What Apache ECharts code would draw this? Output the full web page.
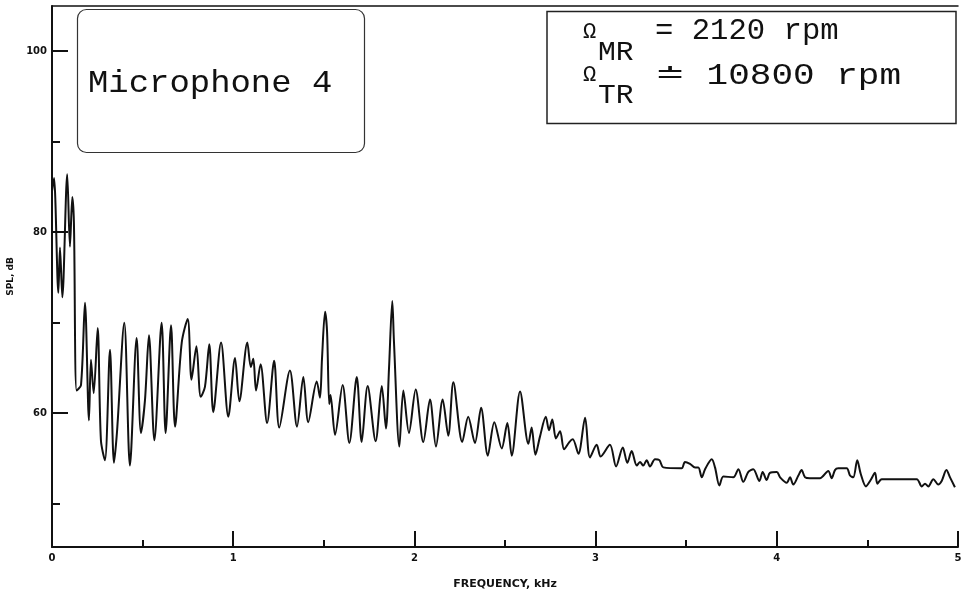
<!DOCTYPE html>
<html>
<head>
<meta charset="utf-8">
<script src="https://cdn.jsdelivr.net/npm/echarts@6/dist/echarts.min.js"></script>
<style>html,body{margin:0;padding:0;background:#fff;}#c{width:961px;height:590px;}</style>
</head>
<body>
<div id="c"></div>
<script>
// Frequency (kHz) and SPL (dB)
const freqKHz = [0.000,0.011,0.035,0.044,0.057,0.084,0.099,0.112,0.121,0.136,0.160,0.182,0.204,0.215,0.230,0.252,0.270,0.292,0.320,0.342,0.359,0.399,0.430,0.467,0.491,0.513,0.535,0.565,0.605,0.627,0.657,0.679,0.716,0.749,0.770,0.797,0.821,0.844,0.868,0.890,0.933,0.973,1.010,1.034,1.078,1.097,1.111,1.126,1.151,1.187,1.226,1.254,1.313,1.352,1.387,1.414,1.461,1.479,1.490,1.507,1.518,1.530,1.537,1.562,1.604,1.641,1.682,1.709,1.742,1.786,1.820,1.843,1.860,1.878,1.887,1.917,1.939,1.970,2.007,2.049,2.086,2.119,2.156,2.187,2.215,2.264,2.297,2.334,2.368,2.405,2.441,2.482,2.513,2.537,2.583,2.629,2.647,2.668,2.693,2.725,2.743,2.761,2.781,2.804,2.826,2.855,2.874,2.905,2.942,2.969,3.006,3.028,3.079,3.113,3.150,3.175,3.199,3.227,3.245,3.263,3.282,3.300,3.328,3.352,3.374,3.475,3.493,3.521,3.549,3.567,3.586,3.604,3.641,3.659,3.683,3.705,3.760,3.788,3.815,3.843,3.870,3.904,3.922,3.944,3.962,4.000,4.018,4.055,4.073,4.091,4.119,4.137,4.156,4.183,4.238,4.284,4.303,4.321,4.339,4.386,4.404,4.422,4.444,4.463,4.492,4.518,4.542,4.555,4.579,4.772,4.800,4.818,4.836,4.864,4.891,4.910,4.936,4.956,4.983];
const splDB = [84.5,86.0,73.3,78.3,72.8,86.4,78.4,83.9,81.0,62.5,63.1,72.2,59.2,65.9,62.2,69.4,57.0,54.8,67.0,54.5,58.0,70.0,54.2,68.3,57.8,61.4,68.6,57.0,70.0,57.8,69.7,58.5,67.8,70.4,63.7,67.4,61.8,62.9,67.6,60.1,67.8,59.6,66.1,61.3,67.8,65.1,66.0,62.5,65.4,58.9,65.8,58.4,64.7,58.5,64.0,59.0,63.5,61.7,66.0,71.2,69.0,61.0,62.0,57.6,63.1,56.7,64.0,56.8,63.0,56.9,63.0,58.3,65.0,72.4,68.0,56.3,62.5,57.8,62.6,56.8,61.5,56.3,61.5,57.5,63.4,56.8,59.6,56.7,60.6,55.3,59.0,56.1,58.9,55.3,62.4,56.6,58.4,55.4,57.4,59.6,58.1,59.3,57.2,58.0,56.0,56.8,57.1,55.5,59.5,55.1,56.5,55.2,56.5,54.1,56.2,54.5,55.8,54.2,54.6,54.2,54.8,54.1,54.9,54.8,54.0,53.9,54.6,54.4,54.0,54.0,52.9,53.8,54.9,54.0,52.0,53.0,52.9,53.8,52.4,53.5,53.8,52.5,53.5,52.6,53.4,53.5,52.9,52.3,52.9,52.1,53.1,53.7,52.9,52.8,52.8,53.6,52.8,53.7,53.9,53.9,53.1,52.9,54.8,53.3,51.9,52.6,53.4,52.2,52.7,52.7,51.9,52.2,51.9,52.7,52.1,52.5,53.7,52.9,51.8];
const xTickLabels = ['0','1','2','3','4','5'];
const yMajorTicks = [60, 80, 100];
const yMinorTicks = [50, 70, 90];

const seriesData = freqKHz.map((f, i) => [f, splDB[i]]);
const ink = '#111';
const labelFont = { color: ink, fontFamily: 'DejaVu Sans', fontWeight: 'bold', fontSize: 10 };
const mono = 'Liberation Mono';

const chart = echarts.init(document.getElementById('c'), null, { renderer: 'canvas' });
chart.setOption({
  animation: false,
  backgroundColor: '#ffffff',
  grid: { left: 52, right: 3, top: 6, bottom: 43, containLabel: false, outerBoundsMode: 'none' },
  xAxis: [{
    type: 'value', min: 0, max: 5, interval: 1,
    name: 'FREQUENCY, kHz', nameLocation: 'middle', nameGap: 32,
    nameTextStyle: { color: ink, fontFamily: 'DejaVu Sans', fontWeight: 'bold', fontSize: 11 },
    axisLine: { show: true, lineStyle: { color: ink, width: 2 } },
    axisTick: { show: true, inside: true, length: 16, lineStyle: { color: ink, width: 2 } },
    minorTick: { show: true, splitNumber: 2, length: 7, lineStyle: { color: ink, width: 2 } },
    axisLabel: { ...labelFont, margin: 6, formatter: (v) => xTickLabels[Math.round(v)] },
    splitLine: { show: false }, minorSplitLine: { show: false }
  }, {
    type: 'value', position: 'top', min: 0, max: 5,
    axisLine: { show: true, lineStyle: { color: ink, width: 1.5 } },
    axisTick: { show: false }, axisLabel: { show: false }, splitLine: { show: false }
  }],
  yAxis: [{
    type: 'value', min: 45.2, max: 105,
    name: 'SPL, dB', nameLocation: 'middle', nameGap: 37, nameRotate: 90,
    nameTextStyle: { color: ink, fontFamily: 'DejaVu Sans', fontWeight: 'bold', fontSize: 9 },
    axisLine: { show: true, lineStyle: { color: ink, width: 2 } },
    axisTick: { show: true, inside: true, length: 16, customValues: yMajorTicks, lineStyle: { color: ink, width: 2 } },
    axisLabel: { ...labelFont, margin: 5, customValues: yMajorTicks },
    splitLine: { show: false }
  }, {
    type: 'value', min: 45.2, max: 105, position: 'left', offset: 0,
    axisLine: { show: false },
    axisTick: { show: true, inside: true, length: 8, customValues: yMinorTicks, lineStyle: { color: ink, width: 2 } },
    axisLabel: { show: false, customValues: yMinorTicks },
    splitLine: { show: false }
  }],
  series: [{
    type: 'line', xAxisIndex: 0, yAxisIndex: 0,
    data: seriesData, showSymbol: false, smooth: 0.3,
    lineStyle: { color: ink, width: 2 }
  }],
  graphic: [
    { type: 'rect', shape: { x: 77.5, y: 9.5, width: 287, height: 143, r: 9 },
      style: { fill: 'none', stroke: '#333', lineWidth: 1.2 } },
    { type: 'text', x: 88, y: 84, scaleX: 1.06, originX: 0, originY: 0,
      style: { text: 'Microphone 4', fontFamily: mono, fontSize: 32, fill: ink, verticalAlign: 'middle', align: 'left' } },
    { type: 'rect', shape: { x: 547, y: 11.5, width: 409, height: 112 },
      style: { fill: 'none', stroke: '#222', lineWidth: 1.5 } },
    { type: 'text', x: 583, y: 32,
      style: { text: 'Ω', fontFamily: mono, fontSize: 22, fill: ink, verticalAlign: 'middle' } },
    { type: 'text', x: 598, y: 53, scaleX: 1.06, originX: 0, originY: 0,
      style: { text: 'MR', fontFamily: mono, fontSize: 28, fill: ink, verticalAlign: 'middle' } },
    { type: 'text', x: 655, y: 31, scaleX: 1.02, originX: 0, originY: 0,
      style: { text: '= 2120 rpm', fontFamily: mono, fontSize: 30, fill: ink, verticalAlign: 'middle' } },
    { type: 'text', x: 583, y: 75,
      style: { text: 'Ω', fontFamily: mono, fontSize: 22, fill: ink, verticalAlign: 'middle' } },
    { type: 'text', x: 598, y: 96, scaleX: 1.06, originX: 0, originY: 0,
      style: { text: 'TR', fontFamily: mono, fontSize: 28, fill: ink, verticalAlign: 'middle' } },
    { type: 'text', x: 655, y: 76, scaleX: 1.2, originX: 0, originY: 0,
      style: { text: '≐ 10800 rpm', fontFamily: mono, fontSize: 30, fill: ink, verticalAlign: 'middle' } }
  ]
});
</script>
</body>
</html>
